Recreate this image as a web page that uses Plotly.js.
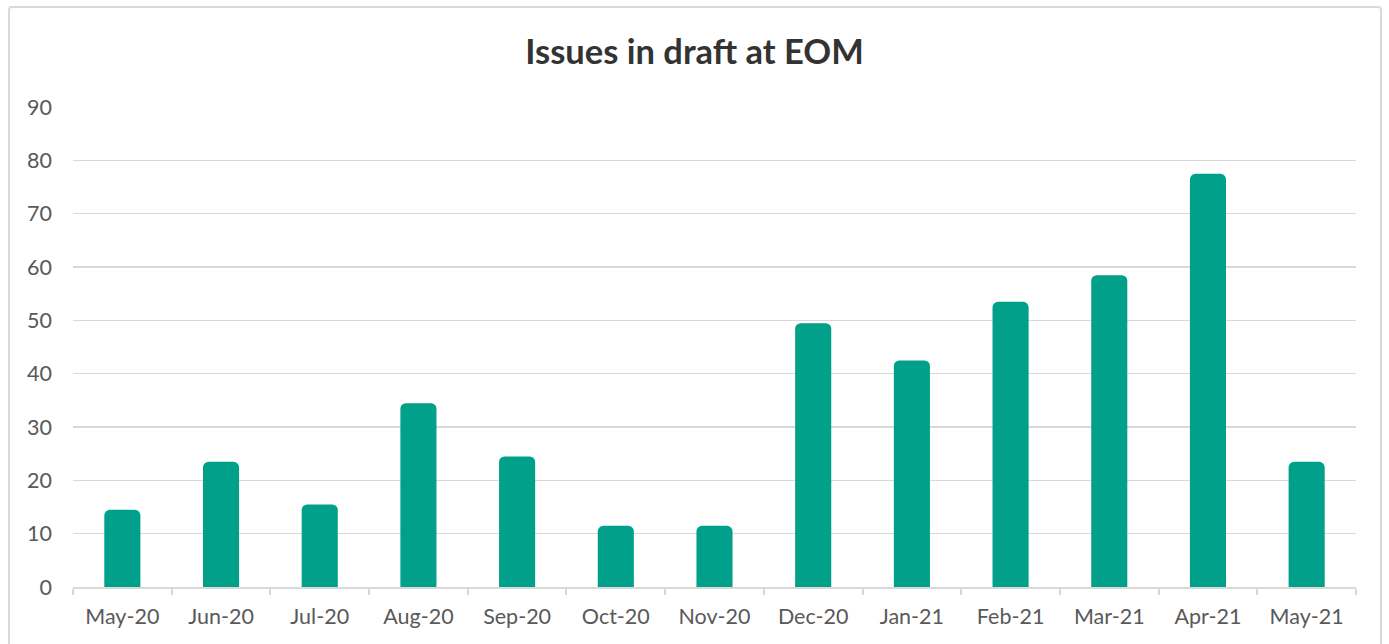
<!DOCTYPE html>
<html>
<head>
<meta charset="utf-8">
<script src="https://cdn.plot.ly/plotly-3.0.1.min.js"></script>
<style>
  html, body { margin: 0; padding: 0; background: #ffffff; }
  #wrap { position: relative; width: 1389px; height: 644px; overflow: hidden; }
  #frame { position: absolute; left: 8px; top: 6px; width: 1374px; height: 660px;
           border: 2px solid #d9d9d9; border-radius: 4px; box-sizing: border-box; pointer-events: none; }
  #chart { position: absolute; left: 0; top: 0; width: 1389px; height: 644px; }
</style>
</head>
<body>
<div id="wrap">
  <div id="frame"></div>
  <div id="chart"></div>
</div>
<script>
const months = ["May-20", "Jun-20", "Jul-20", "Aug-20", "Sep-20", "Oct-20", "Nov-20",
                "Dec-20", "Jan-21", "Feb-21", "Mar-21", "Apr-21", "May-21"];
const issuesInDraft = [14, 23, 15, 34, 24, 11, 11, 49, 42, 53, 58, 77, 23];
const yTicks = [0, 10, 20, 30, 40, 50, 60, 70, 80, 90];

const barColor = "#00a08b";
const FONT = "Lato, 'Open Sans', sans-serif";

const trace = {
  type: "bar",
  x: months,
  y: issuesInDraft,
  width: 0.315,
  marker: { color: barColor, line: { color: barColor, width: 5 }, cornerradius: 3 },
  hoverinfo: "x+y"
};

const layout = {
  width: 1389,
  height: 644,
  paper_bgcolor: "rgba(0,0,0,0)",
  plot_bgcolor: "rgba(0,0,0,0)",
  margin: { l: 73, r: 33, t: 107, b: 57 },
  showlegend: false,
  title: {
    text: "<b>Issues in draft at EOM</b>",
    font: { family: FONT, size: 34.5, color: "#333333" },
    x: 0.5, xref: "container", xanchor: "center",
    y: 1 - 52 / 644, yref: "container", yanchor: "middle"
  },
  xaxis: {
    type: "category",
    categoryorder: "array",
    categoryarray: months,
    showline: true,
    linecolor: "#d9d9d9",
    linewidth: 2,
    ticks: "outside",
    tickson: "boundaries",
    ticklen: 6,
    tickwidth: 2,
    tickcolor: "#d9d9d9",
    ticklabelstandoff: 9,
    showgrid: false,
    tickfont: { family: FONT, size: 21.5, color: "#595959" },
    layer: "above traces",
    fixedrange: true
  },
  yaxis: {
    range: [0, 90],
    tickvals: yTicks,
    ticktext: yTicks.map(String),
    showgrid: true,
    gridcolor: "#d9d9d9",
    gridwidth: 1.5,
    zeroline: false,
    showline: false,
    ticks: "",
    ticklabelstandoff: 20,
    tickfont: { family: FONT, size: 21.5, color: "#595959" },
    fixedrange: true
  }
};

Plotly.newPlot("chart", [trace], layout, { displayModeBar: false, staticPlot: true });
</script>
</body>
</html>
